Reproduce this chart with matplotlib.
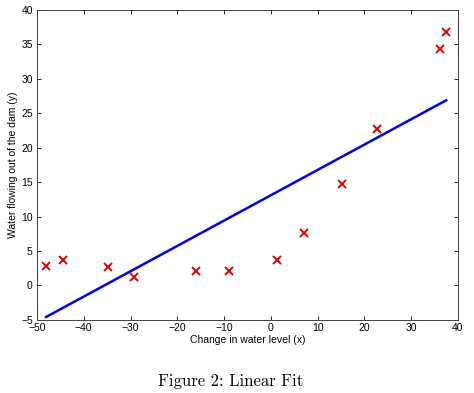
import numpy as np
import matplotlib
matplotlib.use('Agg')
import matplotlib.pyplot as plt

# water level change (x) and water flowing out of the dam (y)
x_data = [-15.94, -29.15, 36.19, 37.49, -48.06, -8.94, 15.31, -34.71, 1.39, -44.38, 7.01, 22.76]
y_data = [2.13, 1.17, 34.36, 36.84, 2.81, 2.12, 14.71, 2.61, 3.74, 3.73, 7.63, 22.75]

# linear fit line
fit_x = [-48.06, 37.49]
fit_y = [-4.58, 26.87]

x_ticks = [-50, -40, -30, -20, -10, 0, 10, 20, 30, 40]
y_ticks = [-5, 0, 5, 10, 15, 20, 25, 30, 35, 40]

plt.rcParams['font.family'] = ['Liberation Sans', 'DejaVu Sans']

fig = plt.figure(figsize=(4.74, 3.93), dpi=100)
ax = fig.add_axes([0.078, 0.186, 0.888, 0.789])

ax.plot(x_data, y_data, 'x', color='#e00000', markersize=5.5, mew=1.4)
ax.plot(fit_x, fit_y, '-', color='#0000e6', lw=1.8)

ax.set_xlim(-50, 40)
ax.set_ylim(-5, 40)
ax.set_xticks(x_ticks)
ax.set_yticks(y_ticks)
ax.tick_params(direction='in', length=3, width=0.6, labelsize=7.5, top=True, right=True)
ax.tick_params(axis='x', pad=2.5)
ax.tick_params(axis='y', pad=3)
for s in ax.spines.values():
    s.set_linewidth(0.7)
    s.set_color('#404040')

ax.set_xlabel('Change in water level (x)', fontsize=7.5, labelpad=1)
ax.set_ylabel('Water flowing out of the dam (y)', fontsize=7.5, labelpad=2)

fig.text(0.487, 0.03, 'Figure 2: Linear Fit', ha='center', va='center',
         fontsize=12, fontfamily='cmr10')

fig.savefig('out.png', dpi=100)
